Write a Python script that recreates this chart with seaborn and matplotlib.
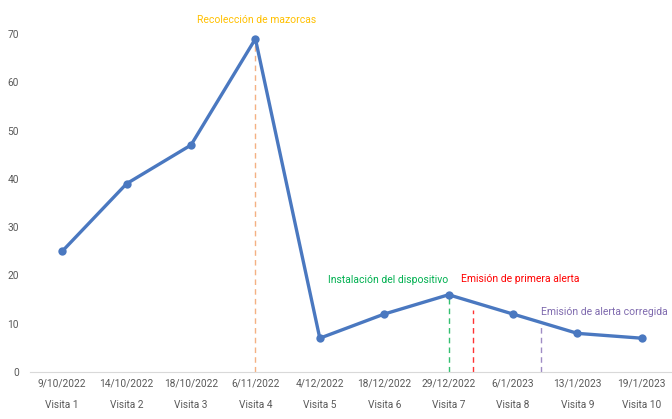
import numpy as np
import matplotlib.pyplot as plt
import seaborn as sns

# data
fechas = ['9/10/2022', '14/10/2022', '18/10/2022', '6/11/2022', '4/12/2022',
          '18/12/2022', '29/12/2022', '6/1/2023', '13/1/2023', '19/1/2023']
visitas = ['Visita %d' % i for i in range(1, 11)]
valores = [25, 39, 47, 69, 7, 12, 16, 12, 8, 7]

# events (position on category axis, top of dashed line)
eventos = ['Recolección de mazorcas', 'Instalación del dispositivo',
           'Emisión de primera alerta', 'Emisión de alerta corregida']
evento_x = [3.0, 6.0, 6.38, 7.43]
evento_top = [69, 16, 12.8, 9.5]
linea_colores = ['#F4B183', '#33C070', '#FF3333', '#9F8CC4']
texto_colores = ['#FFC000', '#00B050', '#FF0000', '#7F6AAE']
texto_x = [3.02, 5.06, 7.12, 8.42]
texto_y = [72.9, 19.0, 19.2, 12.4]

sns.set_style('white')
plt.rcParams['font.family'] = ['Roboto', 'DejaVu Sans']

fig = plt.figure(figsize=(6.72, 4.19), dpi=100)
ax = fig.add_axes([30/672, 47/419, 644/672, 338/419])

x = np.arange(len(valores))
sns.lineplot(x=x, y=valores, ax=ax, color='#4A78C0', linewidth=2.4,
             marker='o', markersize=6, markeredgewidth=0)

for xe, top, c in zip(evento_x, evento_top, linea_colores):
    ax.vlines(xe, 0, top, colors=c, linestyles=(0, (4, 3)), linewidth=1.0,
              zorder=1)
for t, tx, ty, c in zip(eventos, texto_x, texto_y, texto_colores):
    ax.text(tx, ty, t, color=c, ha='center', va='center', fontsize=7.5,
            clip_on=False)

ax.set_xlim(-0.5, 9.5)
ax.set_ylim(0, 70)
ax.set_yticks(range(0, 80, 10))
ax.tick_params(axis='y', length=0, labelsize=7.3, labelcolor='#595959', pad=8)
ax.set_xticks(x)
ax.set_xticklabels([f + '\n' + v for f, v in zip(fechas, visitas)],
                   linespacing=2.4, fontsize=7.3, color='#595959')
ax.set_xticks(np.arange(-0.5, 10, 1), minor=True)
ax.tick_params(axis='x', which='major', length=0, pad=5)
ax.tick_params(axis='x', which='minor', length=36, color='#D9D9D9', width=0.8)

sns.despine(ax=ax, left=True, top=True, right=True)
ax.spines['bottom'].set_color('#D9D9D9')
ax.set_xlabel('')
ax.set_ylabel('')

plt.savefig('out.png', dpi=100)
